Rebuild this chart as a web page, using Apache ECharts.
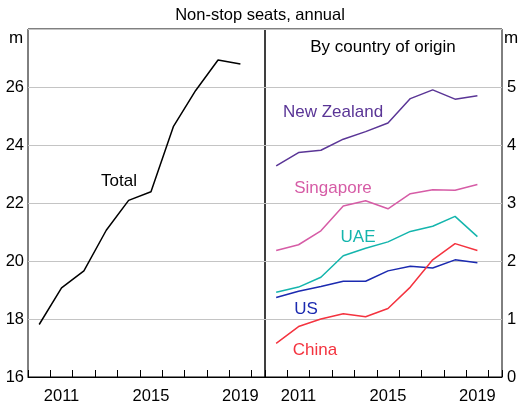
<!DOCTYPE html>
<html>
<head>
<meta charset="utf-8">
<script src="https://cdn.jsdelivr.net/npm/echarts@6/dist/echarts.min.js"></script>
<style>
  html, body { margin: 0; padding: 0; background: #fff; }
  #chart { width: 520px; height: 405px; }
</style>
</head>
<body>
<div id="chart"></div>
<script>
// annual data, plotted mid-year
var years = [2010, 2011, 2012, 2013, 2014, 2015, 2016, 2017, 2018, 2019];
var total = [17.81, 19.07, 19.66, 21.06, 22.09, 22.39, 24.63, 25.88, 26.93, 26.79];
var newZealand = [3.64, 3.87, 3.91, 4.10, 4.23, 4.38, 4.80, 4.95, 4.79, 4.85];
var singapore = [2.18, 2.28, 2.52, 2.95, 3.04, 2.90, 3.16, 3.23, 3.22, 3.32];
var uae = [1.46, 1.55, 1.72, 2.09, 2.22, 2.33, 2.51, 2.60, 2.77, 2.42];
var us = [1.37, 1.48, 1.56, 1.65, 1.65, 1.83, 1.91, 1.88, 2.02, 1.97];
var china = [0.58, 0.87, 1.00, 1.09, 1.04, 1.18, 1.55, 2.02, 2.30, 2.18];
var yearLabels = [2011, 2015, 2019];

var font = "'Liberation Sans', Arial, sans-serif";

function pts(vals) {
    return years.map(function (y, i) { return [y + 0.5, vals[i]]; });
}

// ticks at year boundaries (no labels)
function tickAxis(grid) {
    return {
        type: 'value', gridIndex: grid, position: 'bottom', offset: 0,
        min: 2010, max: 2020.6, interval: 1,
        axisLine: { show: true, lineStyle: { color: '#000', width: 1 } },
        axisTick: { show: true, inside: true, length: 7, lineStyle: { color: '#000' } },
        axisLabel: { show: false },
        splitLine: { show: false }
    };
}
// year labels centred between ticks
function labelAxis(grid) {
    return {
        type: 'value', gridIndex: grid, position: 'bottom', offset: 0,
        min: 2010, max: 2020.6, interval: 0.5,
        axisLine: { show: false }, axisTick: { show: false }, splitLine: { show: false },
        axisLabel: {
            margin: 11, fontSize: 16.5, color: '#000', fontFamily: font,
            showMinLabel: true, showMaxLabel: true,
            formatter: function (v) {
                var y = Math.round(v - 0.5);
                return (Math.abs(v - y - 0.5) < 1e-6 && yearLabels.indexOf(y) >= 0) ? String(y) : '';
            }
        }
    };
}

function line(name, xi, yi, data, color) {
    return {
        name: name, type: 'line', xAxisIndex: xi, yAxisIndex: yi, data: pts(data),
        showSymbol: false, silent: true, animation: false,
        lineStyle: { color: color, width: 1.5 }
    };
}

function txt(x, y, s, color, align) {
    return {
        type: 'text', x: x, y: y, silent: true,
        style: { text: s, fill: color || '#000', font: '17px ' + font, align: align || 'center', verticalAlign: 'middle' }
    };
}

var chart = echarts.init(document.getElementById('chart'));
chart.setOption({
    animation: false,
    backgroundColor: '#fff',
    grid: [
        { left: 28, top: 29, width: 237, height: 350, show: true, borderColor: '#000', borderWidth: 1, backgroundColor: 'transparent' },
        { left: 265, top: 29, width: 237, height: 350, show: true, borderColor: '#000', borderWidth: 1, backgroundColor: 'transparent' }
    ],
    xAxis: [tickAxis(0), labelAxis(0), tickAxis(1), labelAxis(1)],
    yAxis: [
        {
            type: 'value', gridIndex: 0, position: 'left', min: 16, max: 28, interval: 2,
            axisLine: { show: false }, axisTick: { show: false },
            splitLine: { show: true, lineStyle: { color: '#c4c4c4', width: 1 } },
            axisLabel: {
                margin: 4, fontSize: 16.5, color: '#000', fontFamily: font,
                formatter: function (v) { return v === 28 ? '' : String(v); }
            }
        },
        {
            type: 'value', gridIndex: 1, position: 'right', min: 0, max: 6, interval: 1,
            axisLine: { show: false }, axisTick: { show: false },
            splitLine: { show: true, lineStyle: { color: '#c4c4c4', width: 1 } },
            axisLabel: {
                margin: 5, fontSize: 16.5, color: '#000', fontFamily: font,
                formatter: function (v) { return v === 6 ? '' : String(v); }
            }
        }
    ],
    series: [
        line('Total', 0, 0, total, '#000'),
        line('New Zealand', 2, 1, newZealand, '#5a3596'),
        line('Singapore', 2, 1, singapore, '#d65ca6'),
        line('UAE', 2, 1, uae, '#14b5ad'),
        line('US', 2, 1, us, '#1b2ab0'),
        line('China', 2, 1, china, '#f4333f')
    ],
    graphic: [
        {
            type: 'text', x: 260, y: 15, silent: true,
            style: { text: 'Non-stop seats, annual', fill: '#000', font: '16.5px ' + font, align: 'center', verticalAlign: 'middle' }
        },
        txt(383, 47, 'By country of origin'),
        txt(16, 38, 'm'),
        txt(511, 38, 'm'),
        txt(119, 181, 'Total'),
        txt(333, 112, 'New Zealand', '#5a3596'),
        txt(333, 188, 'Singapore', '#d65ca6'),
        txt(358, 237, 'UAE', '#14b5ad'),
        txt(306, 309, 'US', '#1b2ab0'),
        txt(315, 350, 'China', '#f4333f')
    ]
});
</script>
</body>
</html>
